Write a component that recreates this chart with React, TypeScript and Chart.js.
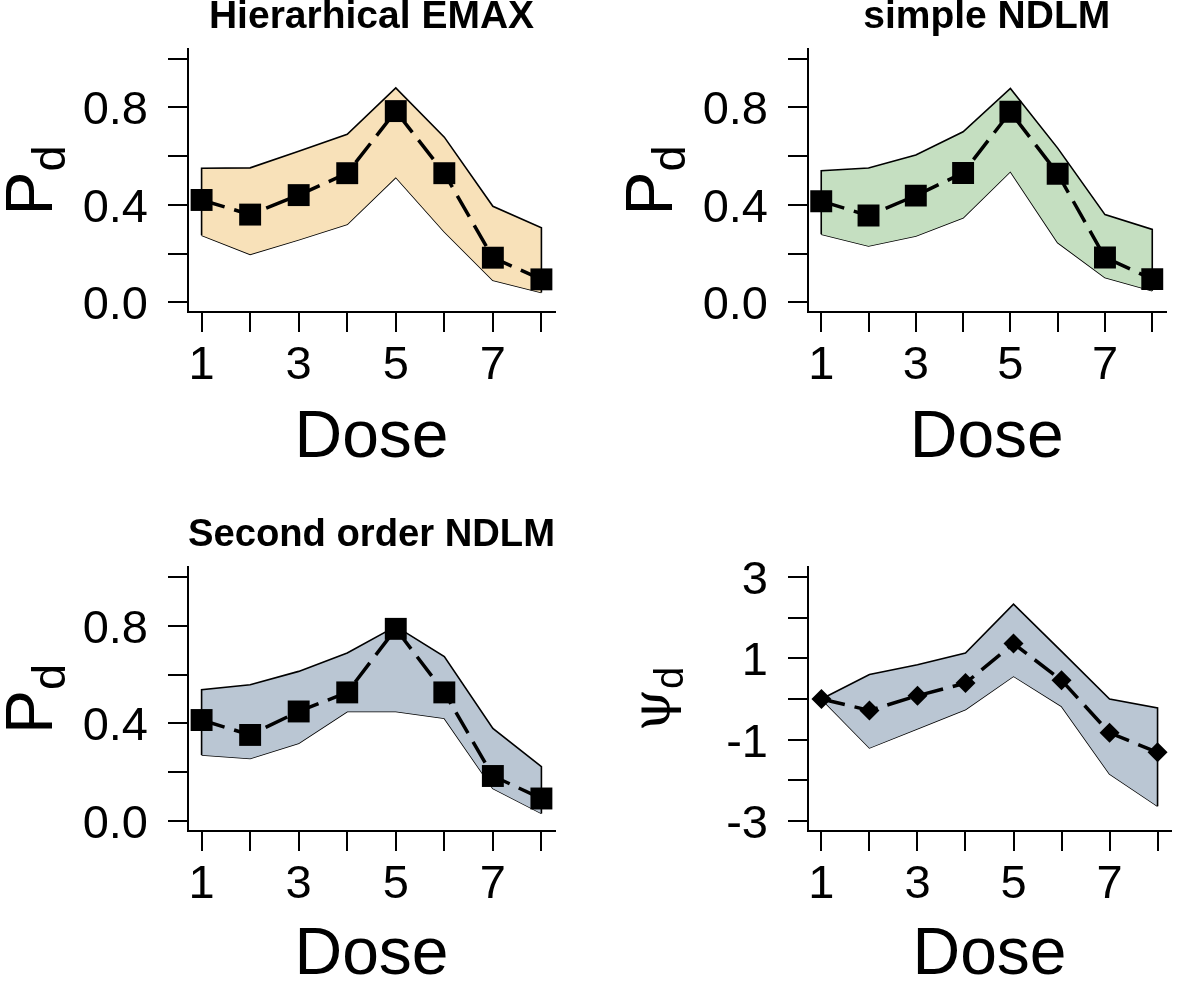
import React, { useEffect, useRef } from 'react';
import { Chart, registerables } from 'chart.js';

Chart.register(...registerables);

// ---------- data ----------
const doses = [1, 2, 3, 4, 5, 6, 7, 8];
const xTickLabels = ['1', '', '3', '', '5', '', '7', ''];

const pTicks = [0, 0.2, 0.4, 0.6, 0.8, 1.0];
const pTickLabels = ['0.0', '', '0.4', '', '0.8', ''];

const psiTicks = [-3, -2, -1, 0, 1, 2, 3];
const psiTickLabels = ['-3', '', '-1', '', '1', '', '3'];

// Hierarhical EMAX
const emaxMean = [0.42, 0.36, 0.44, 0.53, 0.785, 0.53, 0.183, 0.094];
const emaxUpper = [0.55, 0.552, 0.62, 0.69, 0.88, 0.678, 0.394, 0.306];
const emaxLower = [0.275, 0.197, 0.257, 0.32, 0.513, 0.29, 0.09, 0.04];

// simple NDLM
const ndlmMean = [0.415, 0.356, 0.438, 0.531, 0.782, 0.528, 0.184, 0.095];
const ndlmUpper = [0.54, 0.551, 0.605, 0.7, 0.878, 0.633, 0.36, 0.299];
const ndlmLower = [0.279, 0.231, 0.272, 0.347, 0.537, 0.245, 0.102, 0.047];

// Second order NDLM
const ndlm2Mean = [0.414, 0.353, 0.449, 0.527, 0.787, 0.527, 0.185, 0.093];
const ndlm2Upper = [0.538, 0.558, 0.613, 0.688, 0.797, 0.674, 0.38, 0.223];
const ndlm2Lower = [0.271, 0.257, 0.319, 0.449, 0.449, 0.421, 0.134, 0.032];

// psi_d
const psiMean = [0, -0.28, 0.08, 0.39, 1.36, 0.46, -0.83, -1.31];
const psiUpper = [0, 0.6, 0.84, 1.13, 2.33, 1.17, 0.0, -0.22];
const psiLower = [0, -1.2, -0.73, -0.26, 0.56, -0.18, -1.84, -2.63];

// ---------- helpers ----------
const FONT = "'Liberation Sans', Arial, sans-serif";

type YTitle = {
  main: string;
  mainFont: string;
  sub: string;
  subFont: string;
  baselineX: number;
  subShift: number;
};

type PanelProps = {
  left: number;
  top: number;
  width: number;
  height: number;
  title?: string;
  titleCenterY: number;
  chartTop: number;
  chartBottom: number;
  chartLeft: number;
  chartRight: number;
  doseCenterY: number;
  mean: number[];
  upper: number[];
  lower: number[];
  fillColor: string;
  pointStyle: 'rect' | 'rectRot';
  pointRadius: number;
  yMin: number;
  yMax: number;
  yTicks: number[];
  yTickLabels: string[];
  yTitle: YTitle;
};

function Panel(p: PanelProps) {
  const ref = useRef<HTMLCanvasElement | null>(null);

  useEffect(() => {
    if (!ref.current) return;
    const titleLH = 0.9;
    const titleSize = 39;
    const titleLine = titleSize * titleLH;
    const titlePadTop = p.titleCenterY - titleLine / 2;
    const titlePadBottom = p.chartTop - titlePadTop - titleLine;

    const doseSize = 66;
    const doseLH = 0.8;
    const xScaleHeight = p.doseCenterY - p.chartBottom + (doseSize * doseLH) / 2;

    const xMin = doses[0] - 0.04 * (doses[doses.length - 1] - doses[0]);
    const xMax = doses[doses.length - 1] + 0.04 * (doses[doses.length - 1] - doses[0]);

    const yTitlePlugin = {
      id: 'yTitleSub',
      afterDraw(chart: any) {
        const ctx = chart.ctx as CanvasRenderingContext2D;
        const { top, bottom } = chart.chartArea;
        const t = p.yTitle;
        ctx.save();
        ctx.fillStyle = '#000';
        ctx.textAlign = 'left';
        ctx.textBaseline = 'alphabetic';
        ctx.font = t.mainFont;
        const wMain = ctx.measureText(t.main).width;
        ctx.font = t.subFont;
        const wSub = ctx.measureText(t.sub).width;
        const total = wMain + wSub;
        ctx.translate(t.baselineX, (top + bottom) / 2);
        ctx.rotate(-Math.PI / 2);
        ctx.font = t.mainFont;
        ctx.fillText(t.main, -total / 2, 0);
        ctx.font = t.subFont;
        ctx.fillText(t.sub, -total / 2 + wMain, t.subShift);
        ctx.restore();
      },
    };

    const upperOutline = [
      { x: doses[0], y: p.lower[0] },
      ...doses.map((d, i) => ({ x: d, y: p.upper[i] })),
      { x: doses[doses.length - 1], y: p.lower[p.lower.length - 1] },
    ];

    const chart = new Chart(ref.current, {
      type: 'line',
      data: {
        datasets: [
          {
            label: 'mean',
            data: doses.map((d, i) => ({ x: d, y: p.mean[i] })),
            borderColor: '#000',
            borderWidth: 3.5,
            borderDash: [24, 10],
            pointStyle: p.pointStyle,
            pointRadius: p.pointRadius,
            pointBackgroundColor: '#000',
            pointBorderColor: '#000',
            pointBorderWidth: 0,
            fill: false,
          },
          {
            label: 'upper',
            data: upperOutline,
            borderColor: '#000',
            borderWidth: 1.6,
            pointRadius: 0,
            backgroundColor: p.fillColor,
            fill: '+1',
          },
          {
            label: 'lower',
            data: doses.map((d, i) => ({ x: d, y: p.lower[i] })),
            borderColor: '#000',
            borderWidth: 1.6,
            pointRadius: 0,
            fill: false,
          },
        ],
      },
      options: {
        responsive: false,
        animation: false,
        events: [],
        layout: {
          padding: {
            left: 0,
            right: p.width - p.chartRight,
            top: p.title ? 0 : p.chartTop,
            bottom: p.height - p.chartBottom - xScaleHeight,
          },
        },
        plugins: {
          legend: { display: false },
          tooltip: { enabled: false },
          title: {
            display: !!p.title,
            text: p.title || '',
            fullSize: false,
            color: '#000',
            font: { family: FONT, size: titleSize, weight: 'bold', lineHeight: titleLH },
            padding: { top: titlePadTop, bottom: titlePadBottom },
          },
        },
        scales: {
          x: {
            type: 'linear',
            min: xMin,
            max: xMax,
            afterBuildTicks: (s: any) => {
              s.ticks = doses.map((v) => ({ value: v }));
            },
            afterFit: (s: any) => {
              s.height = xScaleHeight;
            },
            ticks: {
              autoSkip: false,
              maxRotation: 0,
              minRotation: 0,
              color: '#000',
              padding: 6,
              font: { family: FONT, size: 47 },
              callback: (_v: any, i: number) => xTickLabels[i],
            },
            grid: {
              display: true,
              drawOnChartArea: false,
              drawTicks: true,
              tickLength: 20,
              color: '#000',
              lineWidth: 2,
            },
            border: { display: true, color: '#000', width: 2 },
            title: {
              display: true,
              text: 'Dose',
              color: '#000',
              font: { family: FONT, size: doseSize, lineHeight: doseLH },
              padding: { top: 0, bottom: 0 },
            },
          },
          y: {
            type: 'linear',
            min: p.yMin,
            max: p.yMax,
            afterBuildTicks: (s: any) => {
              s.ticks = p.yTicks.map((v) => ({ value: v }));
            },
            afterFit: (s: any) => {
              s.width = p.chartLeft;
            },
            ticks: {
              autoSkip: false,
              color: '#000',
              padding: 20,
              labelOffset: 4,
              font: { family: FONT, size: 47 },
              callback: (_v: any, i: number) => p.yTickLabels[i],
            },
            grid: {
              display: true,
              drawOnChartArea: false,
              drawTicks: true,
              tickLength: 20,
              color: '#000',
              lineWidth: 2,
            },
            border: { display: true, color: '#000', width: 2 },
          },
        },
      } as any,
      plugins: [yTitlePlugin],
    });
    return () => chart.destroy();
  }, []);

  return (
    <canvas
      ref={ref}
      width={p.width}
      height={p.height}
      style={{ position: 'absolute', left: p.left, top: p.top, width: p.width, height: p.height }}
    />
  );
}

const pTitle: YTitle = {
  main: 'P',
  mainFont: `66px ${FONT}`,
  sub: 'd',
  subFont: `47px ${FONT}`,
  baselineX: 52,
  subShift: 13,
};

const psiTitle: YTitle = {
  main: 'ψ',
  mainFont: `54px 'DejaVu Serif', serif`,
  sub: 'd',
  subFont: `40px ${FONT}`,
  baselineX: 50,
  subShift: 13,
};

const pRange = { yMin: -0.04, yMax: 1.04, yTicks: pTicks, yTickLabels: pTickLabels };
const psiRange = { yMin: -3.24, yMax: 3.24, yTicks: psiTicks, yTickLabels: psiTickLabels };

const topRow = { top: 0, height: 490, chartTop: 49, chartBottom: 312, titleCenterY: 17.5, doseCenterY: 439 };
const bottomRow = { top: 494, height: 490, chartTop: 73, chartBottom: 337, titleCenterY: 41, doseCenterY: 462 };
const leftCol = { left: 0, width: 590, chartLeft: 188, chartRight: 555 };
const rightCol = { left: 620, width: 561, chartLeft: 188, chartRight: 555 };

export default function App() {
  return (
    <div style={{ position: 'absolute', left: 0, top: 0, width: 1181, height: 984, background: '#fff', overflow: 'hidden' }}>
      <Panel
        {...topRow}
        {...leftCol}
        {...pRange}
        title="Hierarhical EMAX"
        mean={emaxMean}
        upper={emaxUpper}
        lower={emaxLower}
        fillColor="#F8E1B9"
        pointStyle="rect"
        pointRadius={15.5}
        yTitle={pTitle}
      />
      <Panel
        {...topRow}
        {...rightCol}
        {...pRange}
        title="simple NDLM"
        mean={ndlmMean}
        upper={ndlmUpper}
        lower={ndlmLower}
        fillColor="#C5DFC1"
        pointStyle="rect"
        pointRadius={15.5}
        yTitle={pTitle}
      />
      <Panel
        {...bottomRow}
        {...leftCol}
        {...pRange}
        title="Second order NDLM"
        mean={ndlm2Mean}
        upper={ndlm2Upper}
        lower={ndlm2Lower}
        fillColor="#BAC6D3"
        pointStyle="rect"
        pointRadius={15.5}
        yTitle={pTitle}
      />
      <Panel
        {...bottomRow}
        {...rightCol}
        {...psiRange}
        mean={psiMean}
        upper={psiUpper}
        lower={psiLower}
        fillColor="#BAC6D3"
        pointStyle="rectRot"
        pointRadius={10}
        yTitle={psiTitle}
      />
    </div>
  );
}
